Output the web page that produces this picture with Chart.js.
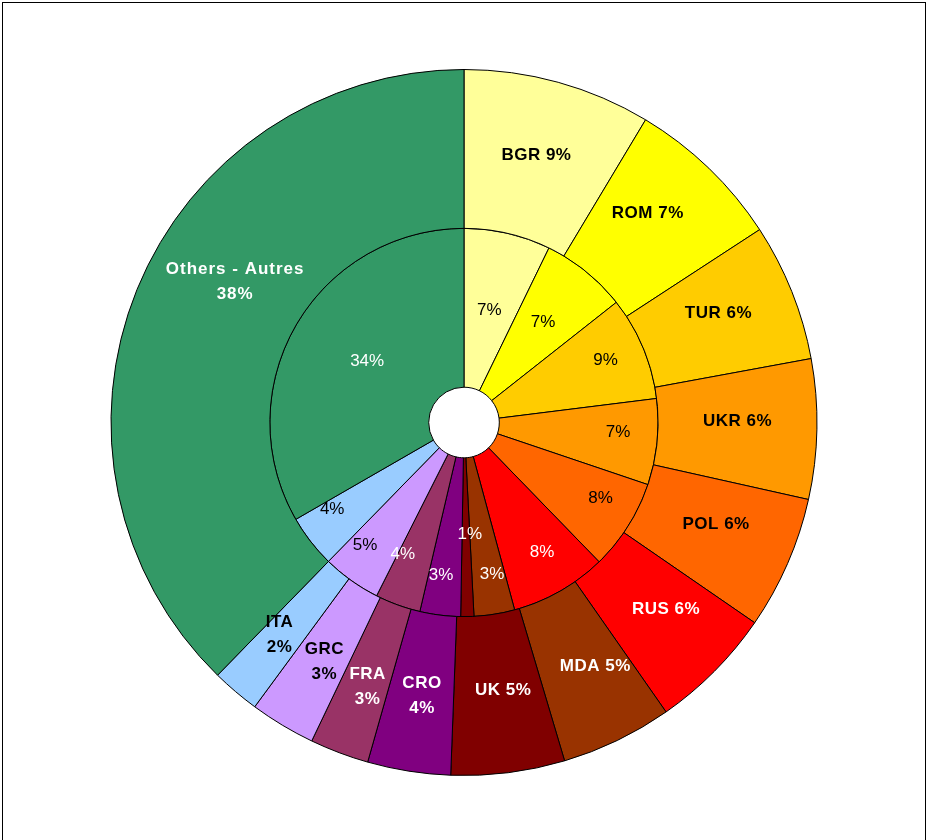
<!DOCTYPE html>
<html><head><meta charset="utf-8">
<script src="https://cdn.jsdelivr.net/npm/chart.js@4/dist/chart.umd.min.js"></script>
<style>
html,body{margin:0;padding:0;background:#fff;overflow:hidden;}
#wrap{position:absolute;left:0;top:0;width:926px;height:840px;}
#frame{position:absolute;left:2px;top:2px;width:924px;height:900px;border:1px solid #000;box-shadow:1px 1px 0 #999;box-sizing:border-box;}
#c{position:absolute;left:0;top:0;}
</style></head><body>
<div id="wrap"><div id="frame"></div><canvas id="c" width="926" height="840"></canvas></div>
<script>
const categories = ['BGR','ROM','TUR','UKR','POL','RUS','MDA','UK','CRO','FRA','GRC','ITA','Others - Autres'];
const outerValues = [8.6, 7.2, 6.3, 6.4, 6.1, 5.7, 5.1, 5.2, 3.8, 2.7, 3.0, 2.2, 37.7];
const innerValues = [7.25, 7.2, 8.7, 7.2, 7.6, 8.1, 3.4, 1.1, 3.4, 3.8, 4.9, 4.4, 33.5];
const sliceColors = ['#FFFF99','#FFFF00','#FFCC00','#FF9900','#FF6600','#FF0000','#993300','#800000','#800080','#993366','#CC99FF','#99CCFF','#339966'];
const textColors = ['#000','#000','#000','#000','#000','#fff','#fff','#fff','#fff','#fff','#000','#000','#fff'];

// label placement style: fraction along the slice arc / across the ring depth
const outerLabelAlong = [0.49, 0.40, 0.44, 0.44, 0.43, 0.40, 0.36, 0.44, 0.48, 0.43, 0.44, 0.58, 0.57];
const outerLabelDepth = [0.52, 0.53, 0.52, 0.50, 0.49, 0.51, 0.52, 0.48, 0.52, 0.55, 0.52, 0.55, 0.47];
const innerLabelAlong = [0.49, 0.48, 0.47, 0.42, 0.38, 0.45, 0.38, 0.0, 0.62, 0.87, 0.69, 0.79, 0.52];
const innerLabelDepth = [0.50, 0.58, 0.75, 0.75, 0.76, 0.73, 0.75, 0.48, 0.75, 0.69, 0.77, 0.77, 0.50];

const FONT = '"Liberation Sans", Arial, sans-serif';

const sliceLabels = {
  id: 'sliceLabels',
  afterDatasetsDraw(chart) {
    const ctx = chart.ctx;
    ctx.save();
    ctx.textAlign = 'center';
    ctx.textBaseline = 'middle';
    chart.data.datasets.forEach((ds, di) => {
      const meta = chart.getDatasetMeta(di);
      meta.data.forEach((arc, i) => {
        const p = arc.getProps(['x','y','startAngle','endAngle','innerRadius','outerRadius'], true);
        const along = di === 0 ? outerLabelAlong[i] : innerLabelAlong[i];
        const depth = di === 0 ? outerLabelDepth[i] : innerLabelDepth[i];
        const a = p.startAngle + (p.endAngle - p.startAngle) * along;
        const r = p.innerRadius + (p.outerRadius - p.innerRadius) * depth;
        const x = p.x + Math.cos(a) * r;
        const y = p.y + Math.sin(a) * r;
        const v = ds.data[i];
        const pct = Math.round(v) + '%';
        ctx.fillStyle = textColors[i];
        let lines;
        if (di === 0) {
          ctx.font = 'bold 17px ' + FONT;
          ctx.letterSpacing = (i === categories.length - 1) ? '1px' : '0.5px';
          if (Math.round(v) <= 4 || i === categories.length - 1) lines = [categories[i], pct];
          else lines = [categories[i] + ' ' + pct];
        } else {
          ctx.font = '17px ' + FONT;
          ctx.letterSpacing = '0px';
          lines = [pct];
        }
        const lh = 25;
        lines.forEach((t, k) => {
          ctx.fillText(t, x, y + (k - (lines.length - 1) / 2) * lh);
        });
      });
    });
    ctx.restore();
  }
};

new Chart(document.getElementById('c'), {
  type: 'doughnut',
  data: {
    labels: categories,
    datasets: [
      { data: outerValues, backgroundColor: sliceColors, borderColor: '#000', borderWidth: 1, hoverOffset: 0 },
      { data: innerValues, backgroundColor: sliceColors, borderColor: '#000', borderWidth: 1, hoverOffset: 0 }
    ]
  },
  options: {
    responsive: false,
    animation: false,
    cutout: '10%',
    layout: { padding: { top: 69, bottom: 64, left: 2, right: 0 } },
    plugins: { legend: { display: false }, tooltip: { enabled: false } },
    events: []
  },
  plugins: [sliceLabels]
});
</script>
</body></html>
